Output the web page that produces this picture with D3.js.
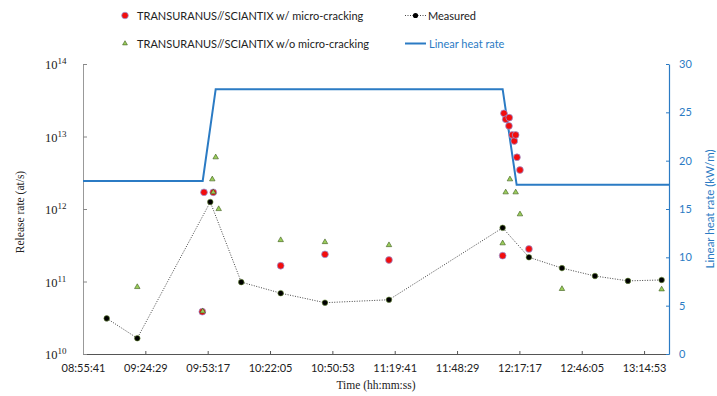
<!DOCTYPE html>
<html><head><meta charset="utf-8">
<script src="https://cdn.jsdelivr.net/npm/d3@7"></script>
<style>body{margin:0;background:#fff}svg{display:block}</style>
</head><body>
<svg id="c" width="717" height="396"></svg>
<script>
const timeTicks = ["08:55:41","09:24:29","09:53:17","10:22:05","10:50:53","11:19:41","11:48:29","12:17:17","12:46:05","13:14:53"];
const xDomain = ["08:55:41","13:26:24"];
const leftTicks = [10,11,12,13,14];
const rightTicks = [0,5,10,15,20,25,30];

const measuredTime = ["09:06:38","09:20:46","09:54:29","10:08:48","10:27:01","10:47:28","11:17:02","12:09:33","12:21:42","12:36:57","12:52:12","13:07:26","13:23:00"];
const measuredRate = [3.1e10,1.65e10,1.25e12,9.8e10,6.9e10,5.1e10,5.6e10,5.5e11,2.16e11,1.53e11,1.19e11,1.02e11,1.05e11];

const withTime = ["09:50:48","09:51:35","09:55:52","10:27:01","10:47:28","11:17:02","12:09:33","12:10:09","12:10:57","12:12:28","12:12:36","12:14:00","12:14:55","12:15:34","12:16:10","12:17:33","12:21:42"];
const withRate = [3.83e10,1.70e12,1.70e12,1.65e11,2.37e11,1.98e11,2.27e11,2.09e13,1.73e13,1.40e13,1.82e13,1.05e13,8.67e12,1.05e13,5.17e12,3.45e12,2.81e11];

const withoutTime = ["09:20:46","09:50:59","09:55:25","09:55:52","09:56:59","09:58:22","10:27:01","10:47:28","11:17:02","12:09:33","12:10:57","12:12:55","12:15:34","12:17:33","12:36:57","13:23:00"];
const withoutRate = [8.4e10,3.88e10,2.57e12,1.70e12,5.17e12,1.0e12,3.73e11,3.5e11,3.18e11,3.37e11,1.70e12,2.57e12,1.70e12,8.46e11,7.9e10,7.8e10];

const lhrTime = ["08:55:41","09:50:59","09:56:59","12:09:33","12:16:01","13:26:24"];
const lhrValue = [17.9,17.9,27.4,27.4,17.5,17.5];

const sec = s => { const p = s.split(":").map(Number); return p[0]*3600+p[1]*60+p[2]; };
const blue = "#2b7bc4";
const svg = d3.select("#c");
const L = 83, R = 669, T = 64, B = 354;

const x = d3.scaleLinear().domain(xDomain.map(sec)).range([L, R]);
const y = d3.scaleLog().domain([1e10, 1e14]).range([B, T]);
const y2 = d3.scaleLinear().domain([0, 30]).range([B, T]);

// Axes
const xAxis = svg.append("g").attr("transform", `translate(0,${B})`)
  .call(d3.axisBottom(x).tickValues(timeTicks.map(sec)).tickFormat((d,i)=>timeTicks[i]).tickSize(-3).tickPadding(10).tickSizeOuter(0));
xAxis.select(".domain").attr("stroke", "#555");
xAxis.selectAll(".tick line").attr("stroke", "#555");
xAxis.selectAll(".tick text").attr("font-family", "Lato").attr("font-size", 11).attr("fill", "#222");

const yAxis = svg.append("g").attr("transform", `translate(${L},0)`)
  .call(d3.axisLeft(y).tickValues(leftTicks.map(e=>Math.pow(10,e))).tickFormat("").tickSize(-4).tickSizeOuter(0));
yAxis.select(".domain").attr("stroke", "#999");
yAxis.selectAll(".tick line").attr("stroke", "#888");
const lt = svg.append("g");
leftTicks.forEach(e => {
  const t = lt.append("text").attr("x", 45).attr("y", y(Math.pow(10,e)) + 5)
    .attr("font-family", "Liberation Serif").attr("font-size", 12.5).attr("fill", "#222");
  t.append("tspan").text("10");
  t.append("tspan").attr("dy", -5).attr("font-size", 9).text(e);
});

const y2Axis = svg.append("g").attr("transform", `translate(${R},0)`)
  .call(d3.axisRight(y2).tickValues(rightTicks).tickSize(-3).tickPadding(10).tickSizeOuter(0));
y2Axis.select(".domain").attr("stroke", blue).attr("stroke-width", 1.2);
y2Axis.selectAll(".tick line").attr("stroke", blue);
y2Axis.selectAll(".tick text").attr("font-family", "Lato").attr("font-size", 11).attr("fill", blue);

// Titles
svg.append("text").attr("transform", `translate(24,${(T+B)/2 + 3}) rotate(-90)`).attr("text-anchor", "middle")
  .attr("font-family", "Liberation Serif").attr("font-size", 11.5).attr("fill", "#222").text("Release rate (at/s)");
svg.append("text").attr("transform", `translate(714,${(T+B)/2}) rotate(-90)`).attr("text-anchor", "middle")
  .attr("font-family", "Lato").attr("font-size", 11.5).attr("fill", blue).text("Linear heat rate (kW/m)");
svg.append("text").attr("x", (L+R)/2).attr("y", 389).attr("text-anchor", "middle")
  .attr("font-family", "Liberation Serif").attr("font-size", 11.5).attr("fill", "#222").text("Time (hh:mm:ss)");

// Linear heat rate
svg.append("path").datum(lhrTime.map((t,i)=>[sec(t), lhrValue[i]]))
  .attr("d", d3.line().x(d=>x(d[0])).y(d=>y2(d[1])))
  .attr("fill", "none").attr("stroke", blue).attr("stroke-width", 2);

// Measured line
const meas = measuredTime.map((t,i)=>[sec(t), measuredRate[i]]);
svg.append("path").datum(meas)
  .attr("d", d3.line().x(d=>x(d[0])).y(d=>y(d[1])))
  .attr("fill", "none").attr("stroke", "#444").attr("stroke-width", 1).attr("stroke-dasharray", "1,1.5");

// With micro-cracking
svg.append("g").selectAll("circle").data(withTime.map((t,i)=>[sec(t), withRate[i]])).join("circle")
  .attr("cx", d=>x(d[0])).attr("cy", d=>y(d[1])).attr("r", 3.4)
  .attr("fill", "#f20d0d").attr("stroke", "#8f9fe6").attr("stroke-width", 0.7);

// Without micro-cracking
const tri = d3.symbol().type(d3.symbolTriangle).size(13);
svg.append("g").selectAll("path").data(withoutTime.map((t,i)=>[sec(t), withoutRate[i]])).join("path")
  .attr("transform", d=>`translate(${x(d[0])},${y(d[1])})`).attr("d", tri)
  .attr("fill", "#9acd5a").attr("stroke", "#3c5a1c").attr("stroke-width", 0.6);

// Measured points
svg.append("g").selectAll("circle").data(meas).join("circle")
  .attr("cx", d=>x(d[0])).attr("cy", d=>y(d[1])).attr("r", 2.8)
  .attr("fill", "#000").attr("stroke", "#6b8e3a").attr("stroke-width", 0.6);

// Legend
const lg = svg.append("g").attr("font-family", "Lato").attr("font-size", 11);
lg.append("circle").attr("cx", 125).attr("cy", 15.5).attr("r", 3.3).attr("fill", "#f20d0d").attr("stroke", "#8f9fe6").attr("stroke-width", 0.7);
lg.append("text").attr("x", 137).attr("y", 19.5).attr("fill", "#222").text("TRANSURANUS//SCIANTIX w/ micro-cracking");
lg.append("path").attr("transform", "translate(125,43.5)").attr("d", d3.symbol().type(d3.symbolTriangle).size(10)).attr("fill", "#9acd5a").attr("stroke", "#3c5a1c").attr("stroke-width", 0.6);
lg.append("text").attr("x", 137).attr("y", 47.5).attr("fill", "#222").text("TRANSURANUS//SCIANTIX w/o micro-cracking");
lg.append("line").attr("x1", 405).attr("x2", 426).attr("y1", 15.5).attr("y2", 15.5).attr("stroke", "#444").attr("stroke-dasharray", "1,1.5");
lg.append("circle").attr("cx", 415.5).attr("cy", 15.5).attr("r", 2.6).attr("fill", "#000");
lg.append("text").attr("x", 428).attr("y", 19.5).attr("fill", "#222").text("Measured");
lg.append("line").attr("x1", 405).attr("x2", 426).attr("y1", 43.5).attr("y2", 43.5).attr("stroke", blue).attr("stroke-width", 2);
lg.append("text").attr("x", 429).attr("y", 47.5).attr("fill", blue).text("Linear heat rate");
</script>
</body></html>
